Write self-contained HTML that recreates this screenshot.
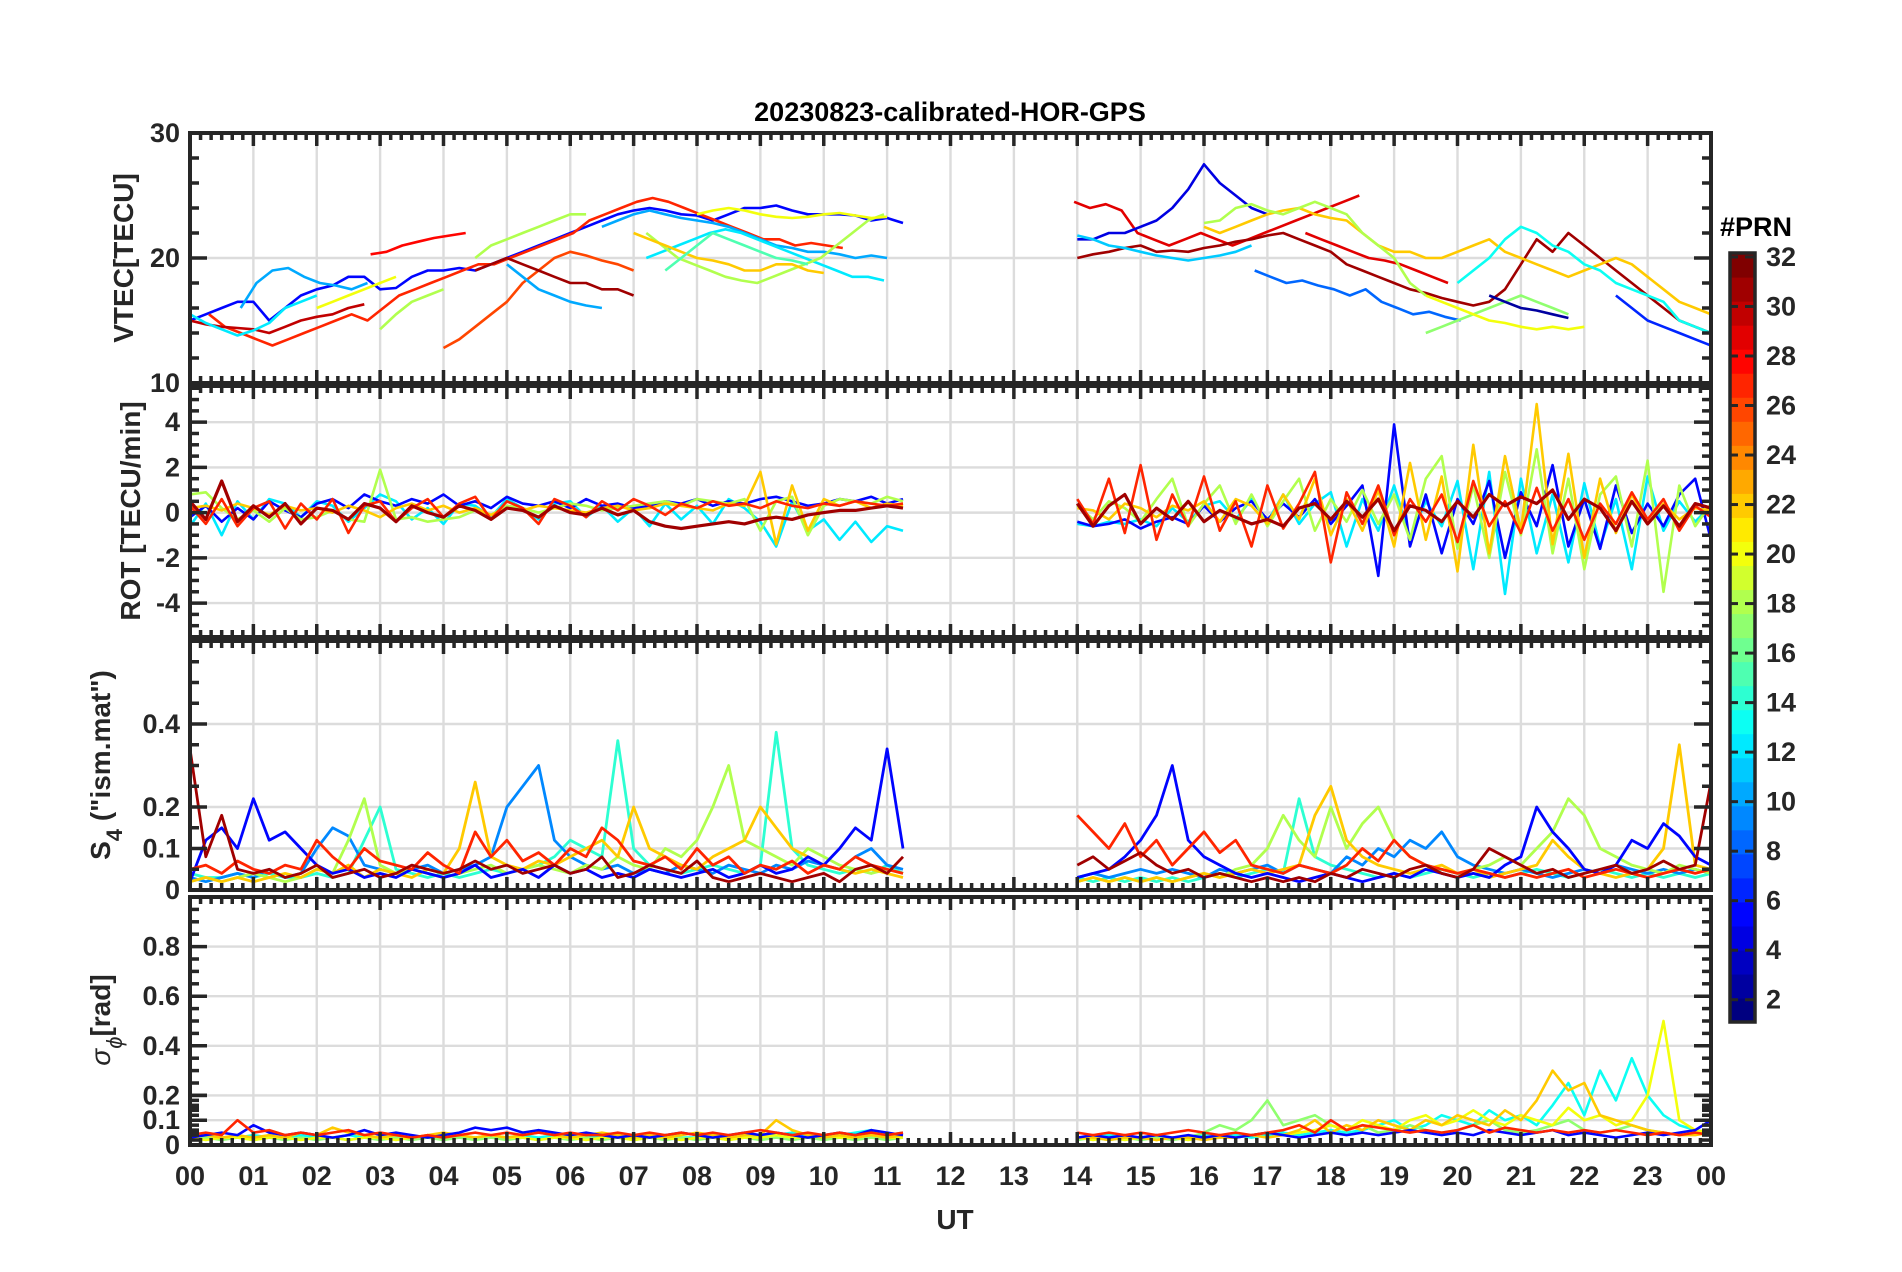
<!DOCTYPE html>
<html><head><meta charset="utf-8"><style>
html,body{margin:0;padding:0;background:#fff;}
svg{display:block;font-family:"Liberation Sans",Arial,sans-serif;}
</style></head><body>
<svg id="fig" width="1902" height="1272" viewBox="0 0 1902 1272" xmlns="http://www.w3.org/2000/svg"></svg>
<script>
// ---------- data ----------
const hourTicks=["00","01","02","03","04","05","06","07","08","09","10","11","12","13","14","15","16","17","18","19","20","21","22","23","00"];
const step=0.25;
// VTEC series
const vtecPrn=[5,27,30,28,26,31,10,10,10,12,12,18,18,18,22,20,20,15, 29,29,4,31,22,13,8,18,17,20,2,6,11];
const vtecStart=[0,0.3,0,2.85,4.0,4.5,0.8,5.0,6.5,0,7.2,3.0,4.5,7.2,7.0,2.0,8.0,7.5, 13.95,17.6,14.0,14.0,16.0,20.0,16.8,16.0,19.5,19.5,20.5,22.5,14.0];
const vtecVals=[
[15,15.5,16,16.5,16.5,15,16,17,17.5,17.8,18.5,18.5,17.5,17.6,18.5,19,19,19.2,19,19.5,20,20.5,21,21.5,22,22.5,23,23.5,23.8,24,23.8,23.5,23.4,23,23.5,24,24,24.2,23.8,23.5,23.5,23.5,23.4,23,23.2,22.8],
[15.5,14.5,14,13.5,13,13.5,14,14.5,15,15.5,15,16,17,17.5,18,18.5,19,19.5,19.5,20,20.5,21,21.5,22,23,23.5,24,24.5,24.8,24.5,24,23.5,23,22.5,22,21.5,21.5,21,21.2,21,20.8],
[15,14.7,14.5,14.4,14.3,14,14.5,15,15.3,15.5,16,16.3],
[20.3,20.5,21,21.3,21.6,21.8,22],
[12.8,13.5,14.5,15.5,16.5,18,19,20,20.5,20.2,19.8,19.5,19],
[19,19.5,20,19.5,19,18.5,18,18,17.5,17.5,17],
[16,18,19,19.2,18.5,18,17.8,17.5,18],
[19.5,18.5,17.5,17,16.5,16.2,16],
[22.5,23,23.5,23.8,23.5,23.2,23,22.8,22.5,22,21.5,21,20.8,20.5,20.5,20.3,20,20.2,20],
[15.5,14.8,14.3,13.8,14.2,14.8,16,16.5,17],
[20,20.5,21,21.5,22,22.3,22,21.5,21,20.5,20,19.5,19,18.5,18.5,18.2],
[14.3,15.5,16.5,17,17.5],
[20,21,21.5,22,22.5,23,23.5,23.5],
[22,21,20,19.5,19,18.5,18.2,18,18.5,19,19.5,20,21,22,23,23.5],
[22,21.5,21,20.5,20,19.8,19.5,19,19,19.5,19.5,19,18.8],
[16,16.5,17,17.5,18,18.5],
[23.5,23.8,24,23.8,23.5,23.3,23.2,23.3,23.5,23.6,23.4,23.2,23.3],
[19,20,21,22,21.5,21,20.5,20,19.8,19.5],
[24.5,24,24.3,23.8,22,21.5,21,21.5,22,21.5,21,21.5,22,22.5,23,23.5,24,24.5,25],
[22,21.5,21,20.5,20,19.8,19.5,19,18.5,18],
[21.5,21.5,22,22,22.5,23,24,25.5,27.5,26,25,24,23.5],
[20,20.3,20.5,20.8,21,20.5,20.6,20.5,20.8,21,21.3,21.5,21.8,22,21.5,21,20.5,19.5,19,18.5,18,17.5,17.2,16.8,16.5,16.2,16.5,17.5,19.5,21.5,20.5,22,21,20,19,18,17,16,15,14.5,14],
[22.5,22,22.5,23,23.5,23.8,24,23.5,23.2,23,22,21,20.5,20.5,20,20,20.5,21,21.5,20.5,20,19.5,19,18.5,19,19.5,20,19.5,18.5,17.5,16.5,16,15.5],
[18,19,20,21.5,22.5,22,21,20.5,19.5,19,18,17.5,17,16.5,15,14.5,14],
[19,18.5,18,18.2,17.8,17.5,17,17.5,16.5,16,15.5,15.7,15.3,15],
[22.8,23,24,24.3,23.8,23.5,24,24.5,24,23.5,22,21,20,18,17],
[14,14.5,15,15.5,16,16.5,17,16.5,16,15.5],
[17,16.5,16,15.5,15,14.8,14.5,14.3,14.5,14.3,14.5],
[17,16.5,16,15.8,15.5,15.2],
[17,16,15,14.5,14,13.5,13],
[21.8,21.5,21,20.8,20.5,20.2,20,19.8,20,20.2,20.5,21]
];
// ROT series (AM from 00 UT, PM from 14 UT)
const rotPrn=[12,5,18,22,27,31];
const rotAM=[
[-0.6,0.4,-1,0.5,-0.3,0.6,0.4,-0.2,0.5,0.3,-0.4,0.2,0.8,0.5,-0.3,0.2,-0.5,0.4,0.3,-0.2,0.6,0.2,-0.3,0.4,0.5,-0.2,0.3,-0.4,0.2,-0.6,0.4,-0.3,0.3,-0.5,0.6,0.2,-0.4,-1.5,0.5,-0.8,-0.3,-1.2,-0.4,-1.3,-0.6,-0.8],
[-0.2,0.3,-0.4,0.2,-0.3,0.5,0.1,-0.2,0.4,0.6,0.2,0.8,0.5,0.3,0.6,0.4,0.8,0.3,0.5,0.2,0.7,0.4,0.3,0.5,0.2,0.6,0.3,0.4,0.2,0.3,0.5,0.4,0.6,0.3,0.5,0.4,0.6,0.7,0.5,0.3,0.4,0.6,0.5,0.7,0.4,0.6],
[0.8,0.9,0.2,-0.3,0.1,-0.4,0.2,-0.3,-0.2,0.1,-0.3,-0.4,1.9,-0.3,-0.2,-0.4,-0.3,-0.2,0.1,-0.1,0.3,0.2,0,0.2,0.4,0.3,0.1,0.2,0.3,0.4,0.5,0.3,0.6,0.5,0.4,0.6,-0.8,0.5,0.7,-1,0.3,0.6,0.5,0.4,0.7,0.5],
[0.2,0.3,0.1,0.4,0.2,-0.1,0.3,0.1,0.2,0,0.3,0.1,-0.2,0.2,0.4,0.1,0.3,0,0.2,-0.1,0.2,0.1,0.3,0.2,0.1,0,0.2,0.3,0.1,0.2,0.4,0.3,0.2,0.1,0.4,0.3,1.8,-1.4,1.2,-0.8,0.6,0.3,0.5,0.2,0.4,0.3],
[0.3,-0.5,0.6,-0.6,0.2,0.5,-0.7,0.4,-0.3,0.6,-0.9,0.3,0.5,-0.4,0.2,0.6,-0.2,0.4,0.7,-0.3,0.5,0.2,-0.5,0.6,0.3,-0.2,0.5,0.1,0.6,0.3,-0.1,0.4,0.2,0.5,0.3,0.4,0.2,0.5,0.3,0.2,0.4,0.3,0.5,0.4,0.3,0.4],
[0.5,-0.3,1.4,-0.4,0.3,-0.2,0.4,-0.5,0.2,0.1,-0.3,0.4,0.2,-0.4,0.3,0,-0.2,0.3,0.1,-0.3,0.2,0.1,-0.2,0.3,0,-0.1,0.2,-0.1,0.1,-0.4,-0.6,-0.7,-0.6,-0.5,-0.4,-0.5,-0.3,-0.2,-0.3,-0.1,0,0.1,0.1,0.2,0.3,0.2]
];
const rotPM=[
[-0.5,-0.6,-0.4,-0.5,-0.3,-0.6,0.2,-0.4,0.3,0.5,-0.3,0.6,-0.4,0.8,-0.5,0.4,0.9,-1.5,0.6,-0.8,1.2,-1.1,0.5,-0.6,1.4,-2.5,1.8,-3.6,1.5,-1.8,0.8,-2.2,1.3,-1.5,0.6,-2.5,1.6,-0.8,0.5,-0.4,0.3],
[-0.4,-0.6,-0.5,-0.3,-0.7,-0.4,-0.2,-0.5,0.3,-0.4,0.2,0.5,-0.3,0.4,-0.2,0.6,-0.5,0.3,1.2,-2.8,3.9,-1.5,0.8,-1.8,0.6,-0.5,1.4,-2,0.9,-0.6,2.1,-1.5,0.6,-1.6,1.2,-0.9,0.4,-0.6,0.8,1.5,-1.2],
[0.3,-0.3,0.5,0.2,-0.4,0.6,1.5,-0.6,0.4,1.2,-0.5,0.8,-0.6,0.5,1.5,-0.8,0.6,-0.4,1,-0.5,0.8,-1.2,1.5,2.5,-1.6,1.2,-2,1.8,-1,2.8,-1.8,1.5,-2.5,0.8,1.6,-1.5,2.3,-3.5,1.2,-0.6,0.4],
[0.2,0.1,-0.3,0.4,0.2,-0.2,0.3,0.1,0.5,-0.4,0.6,0.3,-0.5,0.8,-0.3,1.5,-1,0.6,-0.8,1,-1.5,2.2,-1.2,1.6,-2.6,3,-1.8,2.5,-0.8,4.8,-1.4,2.6,-2,1.5,-0.9,0.8,-0.5,0.4,-0.3,0.2,0.1],
[0.6,-0.5,1.5,-0.9,2.1,-1.2,0.8,-0.6,1.6,-0.8,0.5,-1.5,1.2,-0.7,0.4,1.8,-2.2,0.9,-0.5,1.2,-1,0.6,-0.4,0.8,-1.3,1.4,-0.6,0.5,-0.9,1.1,-0.8,0.6,-1.2,0.4,-0.5,0.9,-0.3,0.6,-0.8,0.3,-0.2],
[0.4,-0.6,0.3,0.8,-0.5,0.2,-0.3,0.5,-0.4,0.1,-0.2,-0.5,-0.3,-0.6,0.2,0.4,-0.3,0.5,-0.2,0.6,-0.8,0.3,0.1,-0.4,0.5,-0.2,0.8,0.3,0.7,0.4,1,-0.3,0.6,0.2,-0.8,0.5,-0.5,0.3,-0.6,0.4,0.2]
];
// S4 series
const s4Prn=[14,9,18,22,5,27,31];
const s4AM=[
[0.04,0.03,0.03,0.04,0.03,0.04,0.03,0.03,0.04,0.03,0.04,0.12,0.2,0.05,0.04,0.03,0.04,0.03,0.04,0.05,0.04,0.05,0.06,0.08,0.12,0.1,0.08,0.36,0.1,0.06,0.05,0.04,0.05,0.06,0.05,0.04,0.06,0.38,0.1,0.06,0.05,0.04,0.05,0.04,0.06,0.04],
[0.03,0.02,0.03,0.04,0.03,0.05,0.03,0.04,0.1,0.15,0.13,0.06,0.05,0.04,0.05,0.06,0.04,0.05,0.06,0.08,0.2,0.25,0.3,0.12,0.08,0.06,0.05,0.06,0.04,0.05,0.04,0.06,0.05,0.04,0.06,0.05,0.04,0.06,0.05,0.07,0.06,0.05,0.08,0.1,0.06,0.05],
[0.02,0.03,0.02,0.03,0.04,0.03,0.02,0.03,0.05,0.04,0.12,0.22,0.06,0.04,0.05,0.04,0.03,0.04,0.05,0.06,0.04,0.05,0.06,0.05,0.04,0.06,0.05,0.08,0.06,0.05,0.1,0.08,0.12,0.2,0.3,0.12,0.1,0.08,0.06,0.1,0.08,0.06,0.05,0.04,0.05,0.04],
[0.02,0.03,0.02,0.03,0.02,0.03,0.04,0.03,0.05,0.04,0.06,0.03,0.05,0.04,0.03,0.05,0.04,0.1,0.26,0.08,0.06,0.05,0.07,0.06,0.08,0.1,0.12,0.08,0.2,0.1,0.08,0.06,0.05,0.08,0.1,0.12,0.2,0.15,0.1,0.08,0.06,0.05,0.04,0.05,0.04,0.03],
[0.02,0.12,0.15,0.1,0.22,0.12,0.14,0.1,0.06,0.04,0.05,0.03,0.04,0.03,0.05,0.04,0.03,0.04,0.06,0.03,0.04,0.05,0.03,0.06,0.04,0.05,0.03,0.04,0.03,0.05,0.04,0.03,0.04,0.05,0.03,0.04,0.06,0.04,0.05,0.08,0.06,0.1,0.15,0.12,0.34,0.1],
[0.05,0.06,0.04,0.07,0.05,0.04,0.06,0.05,0.12,0.08,0.05,0.1,0.07,0.06,0.05,0.09,0.06,0.04,0.14,0.08,0.12,0.07,0.09,0.06,0.1,0.08,0.15,0.12,0.07,0.06,0.08,0.05,0.1,0.06,0.08,0.04,0.06,0.05,0.07,0.04,0.06,0.05,0.08,0.06,0.05,0.04],
[0.34,0.08,0.18,0.05,0.04,0.05,0.03,0.04,0.06,0.03,0.04,0.05,0.03,0.04,0.06,0.05,0.04,0.05,0.07,0.05,0.06,0.04,0.05,0.06,0.04,0.05,0.08,0.03,0.04,0.06,0.05,0.04,0.07,0.03,0.02,0.03,0.04,0.03,0.02,0.03,0.04,0.02,0.05,0.06,0.04,0.08]
];
const s4PM=[
[0.03,0.02,0.03,0.02,0.03,0.02,0.03,0.02,0.03,0.04,0.03,0.04,0.05,0.04,0.22,0.08,0.06,0.05,0.04,0.03,0.04,0.03,0.04,0.05,0.04,0.03,0.04,0.03,0.04,0.05,0.04,0.03,0.04,0.05,0.04,0.03,0.04,0.03,0.04,0.03,0.04],
[0.03,0.04,0.03,0.04,0.05,0.04,0.05,0.04,0.03,0.05,0.04,0.05,0.06,0.04,0.06,0.05,0.04,0.08,0.06,0.1,0.08,0.12,0.1,0.14,0.08,0.06,0.05,0.04,0.05,0.04,0.03,0.04,0.05,0.04,0.06,0.05,0.04,0.05,0.04,0.05,0.04],
[0.02,0.03,0.02,0.03,0.02,0.03,0.02,0.03,0.04,0.03,0.05,0.06,0.1,0.18,0.12,0.08,0.2,0.1,0.16,0.2,0.12,0.08,0.06,0.05,0.04,0.05,0.06,0.08,0.06,0.1,0.14,0.22,0.18,0.1,0.08,0.06,0.05,0.04,0.06,0.05,0.04],
[0.02,0.03,0.02,0.03,0.02,0.03,0.02,0.03,0.04,0.03,0.04,0.05,0.04,0.05,0.06,0.18,0.25,0.12,0.08,0.06,0.05,0.04,0.05,0.06,0.04,0.05,0.03,0.04,0.05,0.06,0.12,0.08,0.05,0.04,0.03,0.04,0.05,0.1,0.35,0.06,0.05],
[0.03,0.04,0.05,0.08,0.12,0.18,0.3,0.12,0.08,0.06,0.04,0.03,0.04,0.03,0.02,0.03,0.04,0.03,0.02,0.03,0.04,0.03,0.05,0.04,0.03,0.04,0.03,0.06,0.08,0.2,0.14,0.1,0.05,0.04,0.06,0.12,0.1,0.16,0.13,0.08,0.06],
[0.18,0.14,0.1,0.16,0.08,0.12,0.06,0.1,0.14,0.09,0.12,0.06,0.05,0.04,0.06,0.05,0.04,0.06,0.1,0.07,0.12,0.08,0.06,0.05,0.04,0.05,0.04,0.03,0.04,0.03,0.04,0.05,0.03,0.04,0.05,0.04,0.03,0.04,0.05,0.04,0.05],
[0.06,0.08,0.05,0.07,0.09,0.06,0.04,0.05,0.03,0.04,0.03,0.02,0.03,0.02,0.03,0.02,0.04,0.03,0.05,0.04,0.03,0.05,0.06,0.04,0.03,0.05,0.1,0.08,0.06,0.04,0.05,0.03,0.04,0.05,0.06,0.04,0.05,0.07,0.05,0.06,0.26]
];
// sigma-phi series
const sigPrn=[13,17,20,22,5,27];
const sigAM=[
[0.03,0.04,0.03,0.03,0.04,0.03,0.03,0.04,0.03,0.03,0.04,0.03,0.03,0.04,0.03,0.03,0.04,0.03,0.03,0.04,0.03,0.04,0.03,0.04,0.03,0.04,0.03,0.03,0.04,0.03,0.04,0.03,0.03,0.04,0.03,0.04,0.03,0.04,0.05,0.04,0.03,0.04,0.05,0.06,0.04,0.05],
[0.02,0.03,0.02,0.03,0.02,0.03,0.02,0.03,0.02,0.03,0.02,0.03,0.02,0.03,0.02,0.03,0.02,0.03,0.02,0.03,0.02,0.03,0.02,0.03,0.02,0.03,0.02,0.03,0.02,0.03,0.02,0.03,0.02,0.03,0.02,0.03,0.02,0.03,0.02,0.03,0.02,0.03,0.02,0.03,0.02,0.03],
[0.03,0.02,0.03,0.03,0.02,0.03,0.03,0.02,0.03,0.03,0.02,0.03,0.03,0.02,0.03,0.04,0.03,0.04,0.03,0.04,0.03,0.03,0.02,0.03,0.03,0.02,0.03,0.03,0.02,0.03,0.03,0.02,0.03,0.03,0.02,0.03,0.03,0.04,0.03,0.03,0.04,0.03,0.03,0.04,0.03,0.03],
[0.03,0.04,0.03,0.04,0.03,0.04,0.03,0.05,0.04,0.07,0.05,0.04,0.03,0.04,0.03,0.04,0.05,0.04,0.03,0.04,0.03,0.04,0.05,0.04,0.03,0.04,0.05,0.04,0.03,0.04,0.03,0.04,0.05,0.04,0.03,0.04,0.04,0.1,0.06,0.04,0.03,0.04,0.03,0.04,0.03,0.04],
[0.03,0.04,0.05,0.04,0.08,0.05,0.04,0.05,0.04,0.03,0.04,0.06,0.04,0.05,0.04,0.03,0.04,0.05,0.07,0.06,0.07,0.05,0.06,0.05,0.04,0.05,0.04,0.03,0.04,0.03,0.04,0.05,0.04,0.03,0.04,0.05,0.04,0.05,0.04,0.03,0.04,0.05,0.04,0.06,0.05,0.04],
[0.04,0.05,0.04,0.1,0.05,0.06,0.04,0.05,0.04,0.05,0.06,0.04,0.05,0.04,0.03,0.04,0.03,0.04,0.05,0.04,0.05,0.04,0.05,0.04,0.05,0.04,0.04,0.05,0.04,0.05,0.04,0.05,0.04,0.05,0.04,0.05,0.06,0.05,0.04,0.05,0.04,0.05,0.04,0.05,0.04,0.05]
];
const sigPM=[
[0.03,0.03,0.04,0.03,0.03,0.04,0.03,0.03,0.04,0.03,0.04,0.03,0.04,0.05,0.04,0.05,0.06,0.05,0.06,0.08,0.1,0.06,0.08,0.12,0.1,0.08,0.14,0.1,0.12,0.08,0.16,0.25,0.12,0.3,0.18,0.35,0.2,0.12,0.08,0.06,0.05],
[0.02,0.03,0.02,0.03,0.02,0.03,0.02,0.03,0.05,0.08,0.06,0.1,0.18,0.08,0.1,0.12,0.08,0.06,0.08,0.05,0.06,0.08,0.06,0.05,0.06,0.08,0.1,0.06,0.05,0.06,0.08,0.1,0.06,0.05,0.06,0.08,0.06,0.05,0.04,0.05,0.04],
[0.03,0.02,0.03,0.02,0.03,0.02,0.03,0.02,0.03,0.04,0.03,0.04,0.05,0.04,0.05,0.06,0.08,0.06,0.1,0.08,0.06,0.1,0.12,0.08,0.1,0.14,0.1,0.08,0.12,0.1,0.08,0.15,0.1,0.12,0.08,0.1,0.2,0.5,0.1,0.06,0.05],
[0.03,0.03,0.02,0.03,0.03,0.02,0.03,0.03,0.02,0.03,0.03,0.04,0.03,0.04,0.06,0.1,0.05,0.08,0.06,0.1,0.08,0.06,0.1,0.08,0.12,0.1,0.08,0.14,0.1,0.18,0.3,0.22,0.25,0.12,0.1,0.08,0.06,0.05,0.04,0.04,0.05],
[0.03,0.04,0.03,0.04,0.03,0.04,0.03,0.04,0.03,0.04,0.03,0.04,0.05,0.04,0.03,0.04,0.05,0.04,0.05,0.04,0.05,0.06,0.05,0.04,0.05,0.04,0.06,0.05,0.04,0.05,0.06,0.04,0.05,0.04,0.03,0.04,0.05,0.04,0.05,0.06,0.1],
[0.05,0.04,0.05,0.04,0.05,0.04,0.05,0.06,0.05,0.04,0.05,0.04,0.05,0.06,0.08,0.05,0.1,0.06,0.08,0.07,0.06,0.05,0.06,0.05,0.06,0.08,0.05,0.07,0.06,0.05,0.06,0.05,0.06,0.05,0.06,0.05,0.04,0.05,0.04,0.05,0.04]
];
const cbTicks=[2,4,6,8,10,12,14,16,18,20,22,24,26,28,30,32];

// ---------- drawing ----------
const NS="http://www.w3.org/2000/svg";
const svg=document.getElementById('fig');
const X0=190,X1=1711;
const INK="#262626";
function xs(t){return X0+(X1-X0)*t/24;}
function mk(tag,attrs,parent){const e=document.createElementNS(NS,tag);for(const k in attrs)e.setAttribute(k,attrs[k]);(parent||svg).appendChild(e);return e;}
function jet(p){const t=(p-1)/31;const c=v=>Math.round(255*Math.max(0,Math.min(1,v)));
  return `rgb(${c(1.5-Math.abs(4*t-3))},${c(1.5-Math.abs(4*t-2))},${c(1.5-Math.abs(4*t-1))})`;}

const panels=[
 {name:'vtec',top:133,bot:383,ymin:10,ymax:30,ticks:[10,20,30],minor:2},
 {name:'rot',top:386,bot:637,ymin:-5.5,ymax:5.6,ticks:[-4,-2,0,2,4],minor:0.5},
 {name:'s4',top:641,bot:890,ymin:0,ymax:0.6,ticks:[0,0.1,0.2,0.4],minor:0.05},
 {name:'sigma',top:897,bot:1145,ymin:0,ymax:1,ticks:[0,0.1,0.2,0.4,0.6,0.8],minor:0.05}
];
function ys(p,v){return p.bot-(v-p.ymin)/(p.ymax-p.ymin)*(p.bot-p.top);}

mk('rect',{x:0,y:0,width:1902,height:1272,fill:'#fff'});
const title=mk('text',{x:950,y:121,'text-anchor':'middle','font-size':27,'font-weight':'bold',fill:'#000'});
title.textContent='20230823-calibrated-HOR-GPS';



function drawSeries(p,g,prn,start,vals,w){
  let d='';vals.forEach((v,i)=>{if(v==null)return;d+=(d?'L':'M')+xs(start+i*step).toFixed(1)+' '+ys(p,v).toFixed(1);});
  const path=mk('path',{d:d,fill:'none',stroke:jet(prn),'stroke-width':w||2.6,'stroke-linejoin':'round'},g);
  
  
}

panels.forEach((p,pi)=>{
  const g=mk('g',{});
  
  
  mk('clipPath',{id:'clip'+pi},g);
  mk('rect',{x:X0,y:p.top,width:X1-X0,height:p.bot-p.top},g.lastChild);
  const grid=mk('g',{stroke:'#dcdcdc','stroke-width':2.4},g);
  
  
  for(let h=1;h<24;h++)mk('line',{x1:xs(h),x2:xs(h),y1:p.top,y2:p.bot},grid);
  p.ticks.forEach(v=>{const y=ys(p,v);if(y>p.top+2&&y<p.bot-2)mk('line',{x1:X0,x2:X1,y1:y,y2:y},grid);});
  const dg=mk('g',{'clip-path':`url(#clip${pi})`},g);
  
  
  if(p.name==='vtec'){vtecVals.forEach((vals,i)=>drawSeries(p,dg,vtecPrn[i],vtecStart[i],vals,2.6));}
  if(p.name==='rot'){rotPrn.forEach((prn,i)=>{drawSeries(p,dg,prn,0,rotAM[i],prn===31?3.2:2.6);drawSeries(p,dg,prn,14,rotPM[i],prn===31?3.2:2.6);});}
  if(p.name==='s4'){s4Prn.forEach((prn,i)=>{drawSeries(p,dg,prn,0,s4AM[i],2.8);drawSeries(p,dg,prn,14,s4PM[i],2.8);});}
  if(p.name==='sigma'){sigPrn.forEach((prn,i)=>{drawSeries(p,dg,prn,0,sigAM[i],2.6);drawSeries(p,dg,prn,14,sigPM[i],2.6);});}
  const tg=mk('g',{stroke:INK,'stroke-width':3.5},g);
  
  
  for(let m=0;m<=24*6;m++){const x=xs(m/6);const L=(m%6===0)?13:7;
    mk('line',{x1:x,x2:x,y1:p.top,y2:p.top+L},tg);mk('line',{x1:x,x2:x,y1:p.bot,y2:p.bot-L},tg);}
  const yv=[];
  for(let v=p.ymin;v<=p.ymax+1e-9;v+=p.minor){yv.push(Math.round(v*1000)/1000);}
  if(p.name==='sigma'){for(let v=0.02;v<0.2;v+=0.02)yv.push(Math.round(v*100)/100);}
  yv.forEach(v=>{const y=ys(p,v);if(y<p.top-1||y>p.bot+1)return;const maj=p.ticks.some(t=>Math.abs(t-v)<1e-6);const L=maj?17:9;
    mk('line',{x1:X0,x2:X0+L,y1:y,y2:y},tg);mk('line',{x1:X1,x2:X1-L,y1:y,y2:y},tg);});
  const box=mk('rect',{x:X0,y:p.top,width:X1-X0,height:p.bot-p.top,fill:'none',stroke:INK,'stroke-width':4},g);
  
  
  p.ticks.forEach(v=>{const t=mk('text',{x:180,y:ys(p,v)+9,'text-anchor':'end','font-size':27,'font-weight':'bold',fill:INK},g);
    t.textContent=(p.name==='s4'||p.name==='sigma')&&v!==0?v.toFixed(1):String(v);
    
    });
});

function ytitle(x,y,name,parts){const t=mk('text',{transform:`translate(${x},${y}) rotate(-90)`,'text-anchor':'middle','font-size':28,'font-weight':'bold',fill:INK});
  parts.forEach(pt=>{const s=mk('tspan',pt.a||{},t);s.textContent=pt.s;});
  }
ytitle(133,258,'vtec-y-axis-title',[{s:'VTEC[TECU]'}]);
ytitle(140,511,'rot-y-axis-title',[{s:'ROT [TECU/min]'}]);
ytitle(110,765,'s4-y-axis-title',[{s:'S'},{s:'4',a:{dy:12,'font-size':22}},{s:' ("ism.mat")',a:{dy:-12}}]);
ytitle(110,1020,'sigma-y-axis-title',[{s:'σ',a:{'font-style':'italic','font-weight':'normal'}},{s:'ϕ',a:{dy:12,'font-size':22,'font-style':'italic','font-weight':'normal'}},{s:'[rad]',a:{dy:-12}}]);

hourTicks.forEach((lab,i)=>{const t=mk('text',{x:xs(i),y:1185,'text-anchor':'middle','font-size':27,'font-weight':'bold',fill:INK});
  t.textContent=lab;
  
  });
const ut=mk('text',{x:955,y:1229,'text-anchor':'middle','font-size':28,'font-weight':'bold',fill:INK});
ut.textContent='UT';



const CB={x:1730,w:25,top:253,bot:1022,vmin:1.1,vmax:32.16};
function cy(v){return CB.bot-(v-CB.vmin)/(CB.vmax-CB.vmin)*(CB.bot-CB.top);}
const cbg=mk('g',{});


for(let k=1;k<=32;k++){const y0=CB.bot-(k-1)/32*(CB.bot-CB.top),y1=CB.bot-k/32*(CB.bot-CB.top);
  mk('rect',{x:CB.x,y:y1,width:CB.w,height:y0-y1+0.6,fill:jet(k)},cbg);}
mk('rect',{x:CB.x,y:CB.top,width:CB.w,height:CB.bot-CB.top,fill:'none',stroke:INK,'stroke-width':3.5},cbg);
cbTicks.forEach(v=>{const y=cy(v);mk('line',{x1:CB.x+CB.w-10,x2:CB.x+CB.w,y1:y,y2:y,stroke:INK,'stroke-width':3},cbg);
  mk('line',{x1:CB.x,x2:CB.x+8,y1:y,y2:y,stroke:INK,'stroke-width':3},cbg);
  const t=mk('text',{x:1766,y:y+9,'font-size':27,'font-weight':'bold',fill:INK},cbg);
  t.textContent=String(v);
  
  });
const prn=mk('text',{x:1720,y:236,'font-size':27,'font-weight':'bold',fill:'#000'});
prn.textContent='#PRN';


</script>
</body></html>
